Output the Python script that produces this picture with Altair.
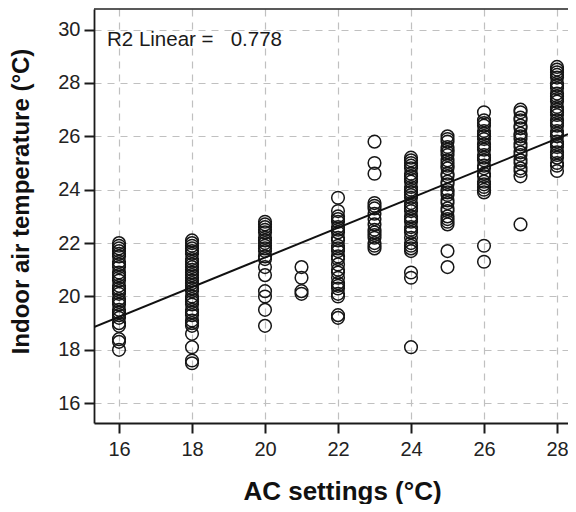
import altair as alt
import pandas as pd

t16 = [22.0, 21.9, 21.8, 21.7, 21.6, 21.5, 21.3, 21.2, 21.1, 20.9, 20.8, 20.7, 20.6,
       20.4, 20.3, 20.2, 20.1, 19.9, 19.8, 19.7, 19.5, 19.4, 19.3, 19.2, 19.0, 18.9,
       18.4, 18.3, 18.0]
t18 = [22.1, 22.0, 21.9, 21.8, 21.7, 21.6, 21.4, 21.3, 21.2, 21.1, 21.0, 20.9, 20.8,
       20.7, 20.6, 20.5, 20.4, 20.3, 20.2, 20.0, 19.9, 19.8, 19.7, 19.5, 19.4, 19.3,
       19.1, 19.0, 18.9, 18.6, 18.1, 17.6, 17.5]
t20 = [22.8, 22.7, 22.6, 22.5, 22.4, 22.2, 22.1, 22.0, 21.9, 21.8, 21.7, 21.5, 21.4,
       21.1, 20.8, 20.2, 20.0, 19.5, 18.9]
t21 = [21.1, 20.7, 20.2, 20.1]
t22 = [23.7, 23.2, 23.0, 22.9, 22.8, 22.6, 22.5, 22.4, 22.2, 22.1, 21.9, 21.8, 21.7,
       21.5, 21.4, 21.2, 21.0, 20.9, 20.7, 20.5, 20.4, 20.3, 20.1, 20.0, 19.3, 19.2]
t23 = [25.8, 25.0, 24.6, 23.5, 23.4, 23.3, 23.1, 22.9, 22.7, 22.5, 22.4, 22.3, 22.2,
       22.0, 21.9, 21.8]
t24 = [25.2, 25.1, 25.0, 24.9, 24.8, 24.6, 24.5, 24.4, 24.3, 24.1, 24.0, 23.9, 23.8,
       23.7, 23.5, 23.4, 23.3, 23.2, 23.0, 22.9, 22.8, 22.6, 22.5, 22.4, 22.2, 22.0,
       21.9, 21.8, 21.7, 20.9, 20.7, 18.1]
t25 = [26.0, 25.9, 25.8, 25.6, 25.5, 25.4, 25.3, 25.1, 25.0, 24.9, 24.8, 24.6, 24.5,
       24.3, 24.2, 24.0, 23.9, 23.8, 23.6, 23.5, 23.3, 23.2, 23.0, 22.9, 22.8, 22.7,
       21.7, 21.1]
t26 = [26.9, 26.6, 26.5, 26.4, 26.2, 26.1, 26.0, 25.9, 25.7, 25.6, 25.5, 25.3, 25.2,
       25.1, 24.9, 24.8, 24.6, 24.5, 24.3, 24.2, 24.1, 24.0, 23.9, 21.9, 21.3]
t27 = [27.0, 26.9, 26.7, 26.6, 26.4, 26.3, 26.1, 26.0, 25.9, 25.7, 25.6, 25.4, 25.3,
       25.1, 25.0, 24.8, 24.7, 24.5, 22.7]
t28 = [28.6, 28.5, 28.4, 28.3, 28.2, 28.0, 27.9, 27.8, 27.6, 27.5, 27.4, 27.3, 27.1,
       27.0, 26.9, 26.8, 26.6, 26.5, 26.4, 26.2, 26.1, 26.0, 25.8, 25.7, 25.6, 25.4,
       25.3, 25.2, 25.0, 24.9, 24.7]

settings = [16, 18, 20, 21, 22, 23, 24, 25, 26, 27, 28]
temps = [t16, t18, t20, t21, t22, t23, t24, t25, t26, t27, t28]

# linear fit
fit_intercept = 10.32
fit_slope = 0.557
r2_label = "R2 Linear = \u00a0\u00a00.778"

x_ticks = [16, 18, 20, 22, 24, 26, 28]
y_ticks = [16, 18, 20, 22, 24, 26, 28, 30]
x_domain = [15.315, 28.301]
y_domain = [15.26, 30.77]

rows = [{"ac": s, "temp": v} for s, lst in zip(settings, temps) for v in lst]
df = pd.DataFrame(rows)
line_df = pd.DataFrame({"ac": x_domain,
                        "temp": [fit_intercept + fit_slope * x for x in x_domain]})
text_df = pd.DataFrame({"label": [r2_label]})

W, H = 474, 414
FONT = "Liberation Sans"

x_enc = alt.X("ac:Q", scale=alt.Scale(domain=x_domain, nice=False, zero=False),
              axis=alt.Axis(values=x_ticks, title="AC settings (°C)", format="d",
                            titleX=248, titleY=76, titleBaseline="alphabetic"))
y_enc = alt.Y("temp:Q", scale=alt.Scale(domain=y_domain, nice=False, zero=False),
              axis=alt.Axis(values=y_ticks, title="Indoor air temperature (°C)", format="d",
                            titleX=-61, titleY=192))

points = alt.Chart(df).mark_point(shape="circle", filled=False, size=160,
                                  strokeWidth=1.5, color="#161616", opacity=1).encode(
    x=x_enc, y=y_enc)

fit = alt.Chart(line_df).mark_line(color="#111111", strokeWidth=2, clip=True).encode(
    x=alt.X("ac:Q"), y=alt.Y("temp:Q"))

label = alt.Chart(text_df).mark_text(align="left", baseline="alphabetic", fontSize=20.5,
                                     font=FONT, color="#1a1a1a").encode(
    x=alt.value(13), y=alt.value(37), text="label:N")

top_border = alt.Chart(text_df).mark_rule(color="#222222", strokeWidth=1.5).encode(
    x=alt.value(0), x2=alt.value(W), y=alt.value(0))

chart = alt.layer(points, fit, label, top_border).properties(
    width=W, height=H,
    autosize=alt.AutoSizeParams(type="none"),
    padding={"left": 86, "top": 1, "right": 0, "bottom": 81},
).configure_view(strokeWidth=0).configure_axis(
    grid=True, gridColor="#c0c0c0", gridDash=[7, 6], gridWidth=1.2,
    domainColor="#1a1a1a", domainWidth=1.8,
    tickColor="#1a1a1a", tickWidth=2, tickSize=10,
    labelFont=FONT, labelFontSize=20, labelColor="#222222",
    titleFont=FONT, titleFontWeight="bold", titleColor="#111111",
).configure_axisX(labelPadding=6, titleFontSize=26).configure_axisY(
    labelPadding=4, titleFontSize=24)

chart.save("out.html", embed_options={"renderer": "svg", "actions": False})
